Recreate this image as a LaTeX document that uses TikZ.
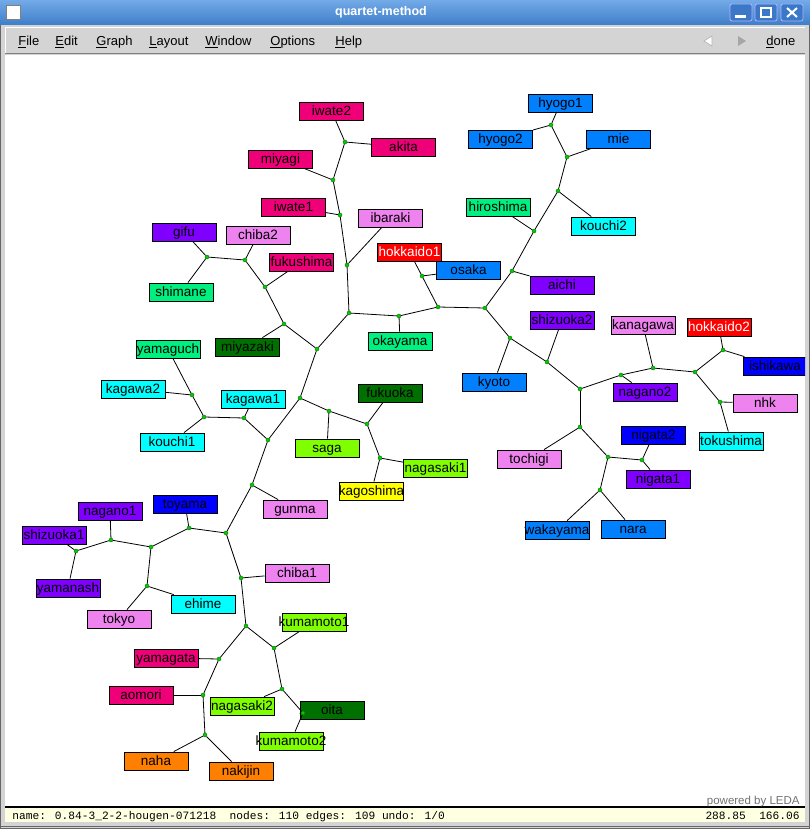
\documentclass[tikz,border=0pt]{standalone}
\usepackage{fontspec}
\setmainfont{Liberation Sans}
\newfontfamily\statusfont{Liberation Mono}
\definecolor{ledapink}{RGB}{240,0,120}
\definecolor{ledaviolet}{RGB}{238,130,238}
\definecolor{ledapurple}{RGB}{128,0,255}
\definecolor{ledaspring}{RGB}{0,240,128}
\definecolor{ledadkgreen}{RGB}{0,112,0}
\definecolor{ledared}{RGB}{255,0,0}
\definecolor{ledaazure}{RGB}{0,128,255}
\definecolor{ledablue}{RGB}{0,0,255}
\definecolor{ledacyan}{RGB}{0,255,255}
\definecolor{ledalime}{RGB}{128,255,0}
\definecolor{ledayellow}{RGB}{255,255,0}
\definecolor{ledaorange}{RGB}{255,128,0}
\definecolor{wingray}{RGB}{212,212,212}
\definecolor{statusyellow}{RGB}{255,255,225}
\newcommand\lbl[1]{\makebox[62pt]{#1}}
\begin{document}
\begin{tikzpicture}[x=1pt,y=-1pt,line width=0.8pt,
				leaf node/.style = {rectangle,draw,inner sep = 0pt, minimum width = 64pt, minimum height = 18pt, text height = 12.5pt, text depth = 3.5pt, font=\fontsize{13.5}{14}\selectfont},
				inner node/.style = {circle,draw=black!55!green,fill=green!80!black, line width=0.4pt, inner sep = 0pt, minimum size = 4pt},
				menu item/.style = {anchor=base west, inner sep=0pt, font=\fontsize{13}{14}\selectfont},
				win button/.style = {rounded corners=2pt, draw=blue!30!white, fill={rgb,255:red,60;green,120;blue,200}, line width=0.8pt}]
				
				% window frame
				\useasboundingbox (0,0) rectangle (810,829);
				\fill[wingray] (0,0) rectangle (810,829);
				\draw[black!60,line width=1pt] (0.5,0) -- (0.5,828.5) -- (809.5,828.5) -- (809.5,0);
				\shade[top color={rgb,255:red,115;green,170;blue,232}, bottom color={rgb,255:red,62;green,126;blue,200}] (0,0) rectangle (810,25);
				\draw[fill=white,draw=black!50,line width=0.6pt] (6,5) rectangle (20,19);
				\node[white,font=\bfseries\fontsize{12.5}{13}\selectfont] (title) at (381,12) {quartet-method};
				\draw[win button] (730,4) rectangle (752,21);
				\draw[win button] (755,4) rectangle (777,21);
				\draw[win button] (781,4) rectangle (803,21);
				\fill[white] (735,15) rectangle (746,18);
				\draw[white,line width=1.2pt] (761,8) rectangle (771,17);
				\draw[white,line width=1.2pt] (761,8.6) -- (771,8.6);
				\draw[white,line width=2pt] (787,8) -- (797,17) (787,17) -- (797,8);
				
				% menu bar
				\draw[white,line width=1pt] (5,53) -- (5,27.5) -- (805,27.5);
				\draw[black!50,line width=1pt] (5,53.5) -- (805,53.5);
				\node[menu item] (file) at (18,46) {\underline{F}ile};
				\node[menu item] (edit) at (55,46) {\underline{E}dit};
				\node[menu item] (graph) at (96,46) {\underline{G}raph};
				\node[menu item] (layout) at (149,46) {\underline{L}ayout};
				\node[menu item] (window) at (205,46) {\underline{W}indow};
				\node[menu item] (options) at (270,46) {\underline{O}ptions};
				\node[menu item] (help) at (335,46) {\underline{H}elp};
				\node[menu item] (done) at (766,46) {\underline{d}one};
				\draw[black!30,fill=white,line width=0.6pt] (712,36) -- (704,41) -- (712,46) -- cycle;
				\fill[black!35] (738,36) -- (746,41) -- (738,46) -- cycle;
				
				% canvas and status bar
				\fill[white] (5,55) rectangle (805,806);
				\fill[black] (5,806) rectangle (805,808);
				\fill[statusyellow] (5,808) rectangle (805,822);
				\draw[black!60,line width=1pt] (1,826.5) -- (809,826.5);
				\node[anchor=base east,text=black!55,inner sep=0pt,font=\fontsize{11.5}{12}\selectfont] (powered) at (800,804) {powered by LEDA};
				\node[anchor=base west,inner sep=0pt,font=\statusfont\fontsize{11.2}{12}\selectfont] (status) at (12,819) {name: 0.84-3\_2-2-hougen-071218\ \ nodes: 110 edges: 109 undo: 1/0};
				\node[anchor=base east,inner sep=0pt,font=\statusfont\fontsize{11.2}{12}\selectfont] (coords) at (800,819) {288.85\ \ 166.06};
				
				\begin{scope}
				\clip (5,55) rectangle (805,806);
				% leaves
				\node[leaf node,fill=ledapink] (iwate2) at (331.5,111) {\lbl{iwate2}};
				\node[leaf node,fill=ledapink] (akita) at (403.5,147) {\lbl{akita}};
				\node[leaf node,fill=ledapink] (miyagi) at (280.5,159) {\lbl{miyagi}};
				\node[leaf node,fill=ledapink] (iwate1) at (293.5,207) {\lbl{iwate1}};
				\node[leaf node,fill=ledaviolet] (ibaraki) at (390.5,218) {\lbl{ibaraki}};
				\node[leaf node,fill=ledapurple] (gifu) at (184,232) {\lbl{gifu}};
				\node[leaf node,fill=ledaviolet] (chiba2) at (258,235) {\lbl{chiba2}};
				\node[leaf node,fill=ledapink] (fukushima) at (301.5,262) {\lbl{fukushima}};
				\node[leaf node,fill=ledaspring] (shimane) at (181,292) {\lbl{shimane}};
				\node[leaf node,fill=ledared,text=white] (hokkaido1) at (409.5,252) {\lbl{hokkaido1}};
				\node[leaf node,fill=ledaazure] (osaka) at (468.5,270) {\lbl{osaka}};
				\node[leaf node,fill=ledaspring] (okayama) at (400,341) {\lbl{okayama}};
				\node[leaf node,fill=ledadkgreen] (miyazaki) at (247.5,347) {\lbl{miyazaki}};
				\node[leaf node,fill=ledaspring] (yamaguchi) at (168,349) {\lbl{yamaguch}};
				\node[leaf node,fill=ledaazure] (hyogo1) at (560.5,103) {\lbl{hyogo1}};
				\node[leaf node,fill=ledaazure] (hyogo2) at (500.5,139) {\lbl{hyogo2}};
				\node[leaf node,fill=ledaazure] (mie) at (618.5,139) {\lbl{mie}};
				\node[leaf node,fill=ledaspring] (hiroshima) at (498,207) {\lbl{hiroshima}};
				\node[leaf node,fill=ledacyan] (kouchi2) at (603.5,226) {\lbl{kouchi2}};
				\node[leaf node,fill=ledapurple] (aichi) at (562,285) {\lbl{aichi}};
				\node[leaf node,fill=ledapurple] (shizuoka2) at (562,320) {\lbl{shizuoka2}};
				\node[leaf node,fill=ledaazure] (kyoto) at (494,382) {\lbl{kyoto}};
				\node[leaf node,fill=ledaviolet] (kanagawa) at (643,325) {\lbl{kanagawa}};
				\node[leaf node,fill=ledared,text=white] (hokkaido2) at (719,327) {\lbl{hokkaido2}};
				\node[leaf node,fill=ledablue] (ishikawa) at (775,366) {\lbl{ishikawa}};
				\node[leaf node,fill=ledapurple] (nagano2) at (645,392) {\lbl{nagano2}};
				\node[leaf node,fill=ledaviolet] (nhk) at (765,403) {\lbl{nhk}};
				\node[leaf node,fill=ledacyan] (tokushima) at (731,441) {\lbl{tokushima}};
				\node[leaf node,fill=ledablue] (nigata2) at (653.5,435) {\lbl{nigata2}};
				\node[leaf node,fill=ledapurple] (nigata1) at (658,479) {\lbl{nigata1}};
				\node[leaf node,fill=ledaviolet] (tochigi) at (529,459) {\lbl{tochigi}};
				\node[leaf node,fill=ledaazure] (wakayama) at (557,530) {\lbl{wakayama}};
				\node[leaf node,fill=ledaazure] (nara) at (633,529) {\lbl{nara}};
				\node[leaf node,fill=ledacyan] (kagawa2) at (133,389) {\lbl{kagawa2}};
				\node[leaf node,fill=ledacyan] (kagawa1) at (253,399) {\lbl{kagawa1}};
				\node[leaf node,fill=ledacyan] (kouchi1) at (172,442) {\lbl{kouchi1}};
				\node[leaf node,fill=ledadkgreen] (fukuoka) at (390,393) {\lbl{fukuoka}};
				\node[leaf node,fill=ledalime] (saga) at (327,448) {\lbl{saga}};
				\node[leaf node,fill=ledalime] (nagasaki1) at (435.5,468) {\lbl{nagasaki1}};
				\node[leaf node,fill=ledayellow] (kagoshima) at (371.5,491) {\lbl{kagoshima}};
				\node[leaf node,fill=ledaviolet] (gunma) at (295,509) {\lbl{gunma}};
				\node[leaf node,fill=ledablue] (toyama) at (185,504) {\lbl{toyama}};
				\node[leaf node,fill=ledapurple] (nagano1) at (110,511) {\lbl{nagano1}};
				\node[leaf node,fill=ledapurple] (shizuoka1) at (54,535) {\lbl{shizuoka1}};
				\node[leaf node,fill=ledapurple] (yamanashi) at (68,588) {\lbl{yamanash}};
				\node[leaf node,fill=ledacyan] (ehime) at (203,604) {\lbl{ehime}};
				\node[leaf node,fill=ledaviolet] (tokyo) at (119,619) {\lbl{tokyo}};
				\node[leaf node,fill=ledaviolet] (chiba1) at (297,573) {\lbl{chiba1}};
				\node[leaf node,fill=ledalime] (kumamoto1) at (314,622) {\lbl{kumamoto1}};
				\node[leaf node,fill=ledapink] (yamagata) at (166,658) {\lbl{yamagata}};
				\node[leaf node,fill=ledapink] (aomori) at (141,695) {\lbl{aomori}};
				\node[leaf node,fill=ledalime] (nagasaki2) at (242,706) {\lbl{nagasaki2}};
				\node[leaf node,fill=ledadkgreen] (oita) at (332,710) {\lbl{oita}};
				\node[leaf node,fill=ledalime] (kumamoto2) at (291,741) {\lbl{kumamoto2}};
				\node[leaf node,fill=ledaorange] (naha) at (156,761) {\lbl{naha}};
				\node[leaf node,fill=ledaorange] (nakijin) at (241,771) {\lbl{nakijin}};
				
				% inner nodes
				\foreach \n/\x/\y in {a1/345/142, a2/333/180, a3/340/215, a4/347/265, a5/349/313,
					b1/207/257, b2/245/260, b3/265/287, b4/284/324, b5/317/349,
					c1/399/316, d1/438/307, d2/422/276, e1/485/308,
					f1/551/125, f2/567/157, f3/558/191, f4/534/231, f5/512/271,
					g1/510/338, g2/547/362, h1/580/389,
					i1/621/375, i2/653/368, i3/695/372, i4/723/350, i5/720/402,
					j1/580/427, j2/608/457, j3/642/460, j4/600/490,
					k1/300/398, k2/329/411, k3/268/440, k4/367/424, k5/380/458,
					l1/244/418, l2/204/417, l3/192/395, m1/252/485, m2/226/533,
					n1/189/528, n2/151/547, n3/111/540, n4/76/551, n5/147/586,
					o1/241/578, o2/246/626, p1/219/659, p2/203/695, p3/205/735,
					q1/274/648, q2/282/689, q3/303/713}
					\node[inner node] (\n) at (\x,\y) {};
				
				\path[-]
				(a1) edge (iwate2) (a1) edge (akita) (a2) edge (miyagi) (a3) edge (iwate1) (a4) edge (ibaraki)
				(b1) edge (gifu) (b1) edge (shimane) (b2) edge (chiba2) (b3) edge (fukushima) (b4) edge (miyazaki)
				(c1) edge (okayama) (d2) edge (hokkaido1) (d2) edge (osaka)
				(f1) edge (hyogo1) (f1) edge (hyogo2) (f2) edge (mie) (f3) edge (kouchi2) (f4) edge (hiroshima) (f5) edge (aichi)
				(g1) edge (kyoto) (g2) edge (shizuoka2)
				(i1) edge (nagano2) (i2) edge (kanagawa) (i4) edge (hokkaido2) (i4) edge (ishikawa) (i5) edge (nhk) (i5) edge (tokushima)
				(j1) edge (tochigi) (j3) edge (nigata2) (j3) edge (nigata1) (j4) edge (wakayama) (j4) edge (nara)
				(l3) edge (yamaguchi) (l3) edge (kagawa2) (l2) edge (kouchi1) (l1) edge (kagawa1)
				(k2) edge (saga) (k4) edge (fukuoka) (k5) edge (nagasaki1) (k5) edge (kagoshima) (m1) edge (gunma)
				(n1) edge (toyama) (n3) edge (nagano1) (n4) edge (shizuoka1) (n4) edge (yamanashi) (n5) edge (ehime) (n5) edge (tokyo)
				(o1) edge (chiba1) (q1) edge (kumamoto1) (q2) edge (nagasaki2) (q3) edge (oita) (q3) edge (kumamoto2)
				(p1) edge (yamagata) (p2) edge (aomori) (p3) edge (naha) (p3) edge (nakijin);
				
				\path[-]
				(a1) edge (a2) (a2) edge (a3) (a3) edge (a4) (a4) edge (a5) (a5) edge (c1) (a5) edge (b5)
				(b1) edge (b2) (b2) edge (b3) (b3) edge (b4) (b4) edge (b5) (b5) edge (k1)
				(c1) edge (d1) (d1) edge (d2) (d1) edge (e1) (e1) edge (f5)
				(f5) edge (f4) (f4) edge (f3) (f3) edge (f2) (f2) edge (f1)
				(e1) edge (g1) (g1) edge (g2) (g2) edge (h1)
				(h1) edge (i1) (i1) edge (i2) (i2) edge (i3) (i3) edge (i4) (i3) edge (i5)
				(h1) edge (j1) (j1) edge (j2) (j2) edge (j3) (j2) edge (j4)
				(k1) edge (k2) (k2) edge (k4) (k4) edge (k5) (k1) edge (k3)
				(k3) edge (l1) (l1) edge (l2) (l2) edge (l3) (k3) edge (m1) (m1) edge (m2)
				(m2) edge (n1) (n1) edge (n2) (n2) edge (n3) (n3) edge (n4) (n2) edge (n5)
				(m2) edge (o1) (o1) edge (o2) (o2) edge (q1) (q1) edge (q2) (q2) edge (q3)
				(o2) edge (p1) (p1) edge (p2) (p2) edge (p3);
				\end{scope}
				\end{tikzpicture}
\end{document}
